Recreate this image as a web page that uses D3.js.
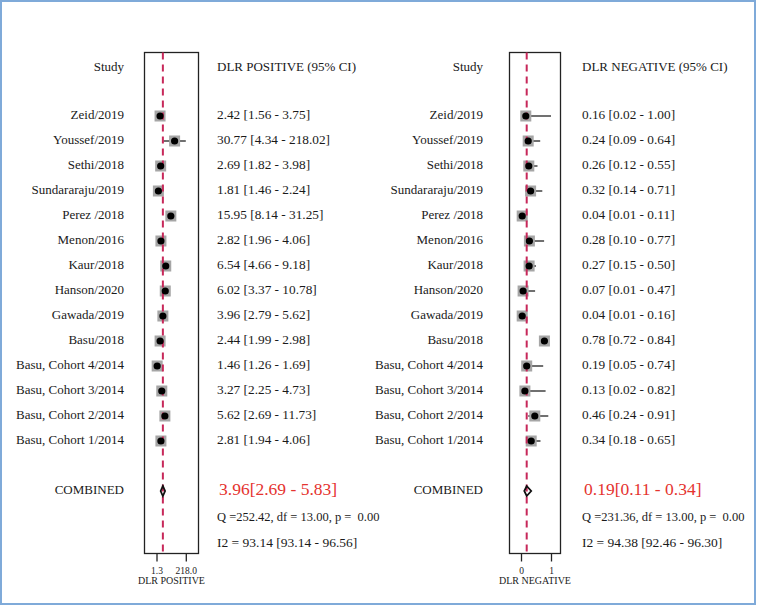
<!DOCTYPE html>
<html><head><meta charset="utf-8">
<script src="https://cdn.jsdelivr.net/npm/d3@7"></script>
<style>
html,body{margin:0;padding:0;background:#fff;}
svg text{font-family:"Liberation Serif","DejaVu Serif",serif;fill:#1a1a1a;}
</style></head><body>
<svg id="c" width="757" height="606"></svg>
<script>
const studies = ["Zeid/2019","Youssef/2019","Sethi/2018","Sundararaju/2019","Perez /2018","Menon/2016","Kaur/2018","Hanson/2020","Gawada/2019","Basu/2018","Basu, Cohort 4/2014","Basu, Cohort 3/2014","Basu, Cohort 2/2014","Basu, Cohort 1/2014"];
const posEst = [2.42,30.77,2.69,1.81,15.95,2.82,6.54,6.02,3.96,2.44,1.46,3.27,5.62,2.81];
const posLo  = [1.56,4.34,1.82,1.46,8.14,1.96,4.66,3.37,2.79,1.99,1.26,2.25,2.69,1.94];
const posHi  = [3.75,218.02,3.98,2.24,31.25,4.06,9.18,10.78,5.62,2.98,1.69,4.73,11.73,4.06];
const negEst = [0.16,0.24,0.26,0.32,0.04,0.28,0.27,0.07,0.04,0.78,0.19,0.13,0.46,0.34];
const negLo  = [0.02,0.09,0.12,0.14,0.01,0.10,0.15,0.01,0.01,0.72,0.05,0.02,0.24,0.18];
const negHi  = [1.00,0.64,0.55,0.71,0.11,0.77,0.50,0.47,0.16,0.84,0.74,0.82,0.91,0.65];
const posCombined = {est:3.96, lo:2.69, hi:5.83, text:"3.96[2.69 - 5.83]", q:"Q =252.42, df = 13.00, p =  0.00", i2:"I2 = 93.14 [93.14 - 96.56]"};
const negCombined = {est:0.19, lo:0.11, hi:0.34, text:"0.19[0.11 - 0.34]", q:"Q =231.36, df = 13.00, p =  0.00", i2:"I2 = 94.38 [92.46 - 96.30]"};
const posTicks = [1.3, 218.0];
const posTickLabels = ["1.3","218.0"];
const negTicks = [0, 1];
const negTickLabels = ["0","1"];

const svg = d3.select("#c");
svg.append("rect").attr("x",1).attr("y",1).attr("width",754).attr("height",603)
  .attr("fill","none").attr("stroke","#7faad9").attr("stroke-width",2);

const y = d3.scaleLinear().domain([0,13]).range([116,441]);
const yComb = y(15);
const yHeader = 68;

function panel(opt){
  const g = svg.append("g");
  const x = opt.scale;
  const boxTop = 52.5, boxBot = 553.5;
  g.append("text").attr("x",opt.labelX).attr("y",yHeader).attr("text-anchor","end")
    .attr("dominant-baseline","middle").attr("font-size",13).text("Study");
  g.append("text").attr("x",opt.textX).attr("y",yHeader).attr("dominant-baseline","middle")
    .attr("font-size",13).text(opt.header);
  studies.forEach((s,i)=>{
    g.append("text").attr("x",opt.labelX).attr("y",y(i)).attr("text-anchor","end")
      .attr("dominant-baseline","middle").attr("font-size",13).text(s);
    g.append("text").attr("x",opt.textX).attr("y",y(i)).attr("dominant-baseline","middle")
      .attr("font-size",13.3).text(opt.fmt(opt.est[i])+" ["+opt.fmt(opt.lo[i])+" - "+opt.fmt(opt.hi[i])+"]");
  });
  g.append("text").attr("x",opt.labelX).attr("y",yComb).attr("text-anchor","end")
    .attr("dominant-baseline","middle").attr("font-size",13).text("COMBINED");
  g.append("text").attr("x",opt.textX+2).attr("y",yComb).attr("dominant-baseline","middle")
    .attr("font-size",17.5).style("fill","#e5332f").text(opt.comb.text);
  g.append("text").attr("x",opt.textX).attr("y",y(16.1)).attr("dominant-baseline","middle")
    .attr("xml:space","preserve").style("white-space","pre")
    .attr("font-size",12.5).text(opt.comb.q);
  g.append("text").attr("x",opt.textX).attr("y",y(17.1)).attr("dominant-baseline","middle")
    .attr("font-size",13.5).text(opt.comb.i2);

  g.append("rect").attr("x",opt.boxL+0.5).attr("y",boxTop).attr("width",opt.boxR-opt.boxL)
    .attr("height",boxBot-boxTop).attr("fill","none").attr("stroke","#222").attr("stroke-width",1.3);
  const axis = d3.axisBottom(x).tickValues(opt.ticks).tickSize(8).tickFormat((d,i)=>opt.tickLabels[i]);
  const ag = g.append("g").attr("transform",`translate(0,${boxBot})`).call(axis);
  ag.select(".domain").remove();
  ag.selectAll("line").attr("stroke","#222").attr("stroke-width",1.3);
  ag.selectAll("text").attr("font-size",9.5).attr("dy","1.05em").style("fill","#222")
    .style("font-family","'Liberation Serif',serif");
  g.append("text").attr("x",(opt.boxL+opt.boxR)/2+0.5).attr("y",582).attr("text-anchor","middle")
    .attr("dominant-baseline","middle").attr("font-size",10).text(opt.axisTitle);

  studies.forEach((s,i)=>{
    g.append("line").attr("x1",x(opt.lo[i])).attr("x2",x(opt.hi[i])).attr("y1",y(i)).attr("y2",y(i))
      .attr("stroke","#111").attr("stroke-width",1.2);
  });
  studies.forEach((s,i)=>{
    const cx = x(opt.est[i]);
    g.append("rect").attr("x",cx-5.5).attr("y",y(i)-5.5).attr("width",11).attr("height",11)
      .attr("fill","#a6a6a6");
  });
  g.append("line").attr("x1",x(opt.comb.est)).attr("x2",x(opt.comb.est))
    .attr("y1",boxTop).attr("y2",boxBot).attr("stroke","#c7285a").attr("stroke-width",2)
    .attr("stroke-dasharray","7,5");
  studies.forEach((s,i)=>{
    g.append("circle").attr("cx",x(opt.est[i])).attr("cy",y(i)).attr("r",3.6).attr("fill","#000");
  });
  const cx = x(opt.comb.est), l = x(opt.comb.lo), r = x(opt.comb.hi);
  g.append("path").attr("d",`M${l},${yComb} L${cx},${yComb-5} L${r},${yComb} L${cx},${yComb+5} Z`)
    .attr("fill","none").attr("stroke","#111").attr("stroke-width",1.8);
}

panel({
  scale: d3.scaleLog().domain([1.3,218]).range([156.5,185.8]),
  labelX:124, textX:217, boxL:144, boxR:198,
  header:"DLR POSITIVE (95% CI)", est:posEst, lo:posLo, hi:posHi,
  fmt:d=>d.toFixed(2), comb:posCombined, ticks:posTicks, tickLabels:posTickLabels,
  axisTitle:"DLR POSITIVE"
});
panel({
  scale: d3.scaleLinear().domain([0,1]).range([521,551]),
  labelX:483, textX:582, boxL:509, boxR:560,
  header:"DLR NEGATIVE (95% CI)", est:negEst, lo:negLo, hi:negHi,
  fmt:d=>d.toFixed(2), comb:negCombined, ticks:negTicks, tickLabels:negTickLabels,
  axisTitle:"DLR NEGATIVE"
});
</script></body></html>
